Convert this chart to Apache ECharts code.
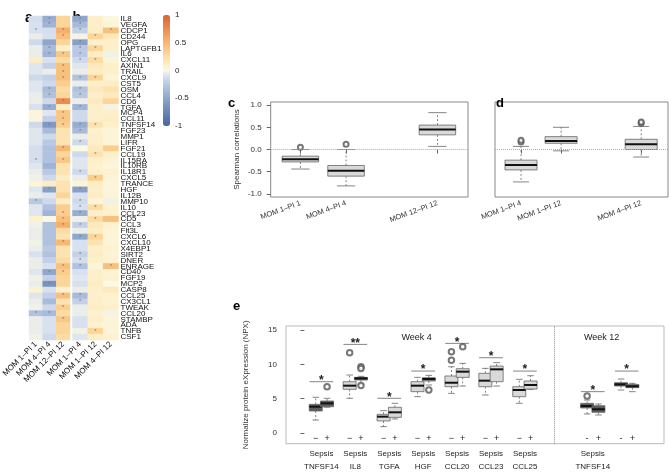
<!DOCTYPE html>
<html>
<head>
<meta charset="utf-8">
<script src="https://cdn.jsdelivr.net/npm/echarts@6/dist/echarts.min.js"></script>
<style>
html, body { margin: 0; padding: 0; background: #fff; }
#chart { width: 669px; height: 475px; }
</style>
</head>
<body>
<div id="chart"></div>
<script>
// ---- heatmap (a, b) ----
const proteins = ['IL8', 'VEGFA', 'CDCP1', 'CD244', 'OPG', 'LAPTGFB1', 'IL6', 'CXCL11', 'AXIN1', 'TRAIL',
    'CXCL9', 'CST5', 'OSM', 'CCL4', 'CD6', 'TGFA', 'MCP4', 'CCL11', 'TNFSF14', 'FGF23',
    'MMP1', 'LIFR', 'FGF21', 'CCL19', 'IL15RA', 'IL10RB', 'IL18R1', 'CXCL5', 'TRANCE', 'HGF',
    'IL12B', 'MMP10', 'IL10', 'CCL23', 'CD5', 'CCL3', 'Flt3L', 'CXCL6', 'CXCL10', 'X4EBP1',
    'SIRT2', 'DNER', 'ENRAGE', 'CD40', 'FGF19', 'MCP2', 'CASP8', 'CCL25', 'CX3CL1', 'TWEAK',
    'CCL20', 'STAMBP', 'ADA', 'TNFB', 'CSF1']
const colsA = ['MOM 1–PI 1', 'MOM 4–PI 4', 'MOM 12–PI 12']
const colsB = ['MOM 1–PI 4', 'MOM 1–PI 12', 'MOM 4–PI 12']

const mom1pi1 = [-0.12, -0.10, -0.10, -0.05, -0.15, -0.05, -0.05, 0.12, -0.08, -0.08,
    -0.15, -0.08, -0.08, -0.05, -0.05, -0.10, 0.03, 0.03, -0.15, -0.08,
    -0.08, -0.08, -0.12, -0.12, -0.12, -0.08, -0.05, -0.03, 0.05, -0.08,
    -0.05, -0.25, -0.08, -0.08, 0.08, -0.03, -0.05, -0.05, -0.03, -0.05,
    -0.10, -0.05, -0.05, -0.08, -0.03, -0.05, 0.08, -0.08, -0.05, -0.03,
    -0.30, -0.05, -0.05, -0.05, -0.03]
const mom4pi4 = [-0.45, -0.40, -0.12, -0.10, -0.50, -0.35, -0.40, -0.10, -0.20, -0.05,
    -0.20, -0.15, -0.35, -0.30, -0.15, -0.45, -0.08, -0.20, -0.60, -0.35,
    -0.15, -0.25, -0.30, -0.30, -0.30, -0.40, -0.25, -0.15, 0.12, -0.55,
    -0.08, -0.15, -0.30, -0.40, 0.00, -0.30, -0.30, -0.30, -0.30, -0.25,
    -0.30, -0.20, -0.10, -0.50, -0.20, -0.65, -0.10, -0.20, -0.35, -0.15,
    -0.35, -0.10, -0.10, -0.10, -0.15]
const mom12pi12 = [0.30, 0.30, 0.55, 0.45, 0.30, 0.10, 0.40, 0.25, 0.45, 0.45,
    0.45, 0.35, 0.25, 0.30, 0.75, 0.12, 0.40, 0.40, 0.35, 0.20,
    0.20, 0.20, 0.50, 0.30, 0.40, 0.20, 0.20, 0.12, 0.20, 0.20,
    0.30, 0.12, 0.35, 0.35, 0.45, 0.55, 0.25, 0.20, 0.50, 0.20,
    0.20, 0.25, 0.45, 0.35, 0.30, 0.30, 0.08, 0.45, 0.20, 0.35,
    0.25, 0.40, 0.30, 0.30, 0.25]
const mom1pi4 = [-0.50, -0.35, -0.20, -0.02, -0.55, -0.25, -0.25, -0.15, -0.08, -0.05,
    -0.30, -0.05, -0.30, -0.25, -0.05, -0.40, -0.15, -0.15, -0.45, -0.35,
    -0.05, -0.15, 0.00, -0.15, -0.08, -0.08, -0.15, -0.05, 0.05, -0.55,
    -0.10, -0.15, -0.10, -0.45, -0.03, -0.20, -0.05, -0.50, -0.10, -0.10,
    -0.20, -0.12, -0.30, -0.10, -0.08, -0.10, -0.05, -0.35, -0.20, -0.05,
    -0.05, -0.10, -0.10, -0.03, -0.08]
const mom1pi12 = [0.10, 0.10, 0.12, 0.30, 0.10, 0.30, 0.12, 0.25, 0.15, 0.12,
    0.30, 0.10, 0.15, 0.10, 0.15, 0.10, 0.10, 0.10, 0.20, 0.08,
    0.10, 0.10, 0.15, 0.20, 0.10, 0.08, 0.10, 0.35, 0.12, 0.10,
    0.12, 0.05, 0.25, 0.10, 0.25, 0.15, 0.12, 0.30, 0.20, 0.10,
    0.12, 0.10, 0.05, 0.10, 0.10, 0.12, 0.10, 0.10, 0.10, 0.12,
    0.08, 0.10, 0.08, 0.30, 0.12]
const mom4pi12 = [0.02, 0.05, 0.45, 0.15, 0.10, 0.10, -0.03, 0.05, 0.10, 0.10,
    0.05, 0.12, 0.20, 0.15, 0.30, -0.02, 0.10, 0.12, 0.10, 0.05,
    0.05, 0.05, 0.35, 0.10, 0.05, 0.03, 0.08, 0.05, 0.03, 0.03,
    0.05, -0.03, 0.08, 0.08, 0.45, 0.08, 0.05, 0.05, 0.05, 0.08,
    0.05, 0.08, 0.45, 0.05, 0.08, 0.00, 0.15, 0.08, 0.08, 0.10,
    -0.02, 0.05, 0.05, 0.05, 0.08]

// rows carrying a significance star, per column
const starMom1pi1 = [2, 24, 31, 50]
const starMom4pi4 = [0, 1, 5, 6, 12, 13, 15, 18, 29, 43, 45, 50]
const starMom12pi12 = [2, 3, 6, 8, 9, 10, 14, 16, 17, 18, 22, 24, 33, 34, 35, 38, 42, 43, 47, 49, 51]
const starMom1pi4 = [0, 1, 2, 4, 5, 6, 7, 10, 12, 13, 15, 18, 19, 21, 26, 29, 31, 32, 33, 35, 37, 40, 41, 42, 47, 48]
const starMom1pi12 = [3, 5, 7, 10, 18, 23, 27, 32, 34, 37, 53]
const starMom4pi12 = [2, 42]

const colorTicks = [-1, -0.5, 0, 0.5, 1]

// ---- panel c / d : Spearman correlations ----
const corrTicks = [-1, -0.5, 0, 0.5, 1]
const cLabels = ['MOM 1–PI 1', 'MOM 4–PI 4', 'MOM 12–PI 12']
const cPos = [1, 2, 4]
// [lower whisker, Q1, median, Q3, upper whisker]
const cStats = [[-0.44, -0.28, -0.22, -0.15, 0.00], [-0.82, -0.60, -0.48, -0.36, 0.00], [0.07, 0.33, 0.45, 0.55, 0.83]]
const cOutliers = [[1, 0.05], [2, 0.12]]

const dLabels = ['MOM 1–PI 4', 'MOM 1–PI 12', 'MOM 4–PI 12']
const dPos = [1, 2, 4]
const dStats = [[-0.73, -0.46, -0.35, -0.24, 0.07], [-0.03, 0.14, 0.19, 0.29, 0.50], [-0.17, 0.00, 0.12, 0.23, 0.52]]
const dOutliers = [[1, 0.17], [1, 0.21], [4, 0.59], [4, 0.62]]

// ---- panel e : NPX by sepsis status ----
const eTicks = [0, 5, 10, 15]
const ePos = [1, 2, 4, 5, 7, 8, 10, 11, 13, 14, 16, 17, 19, 20, 25, 26, 28, 29]
const eSigns = ['−', '+', '−', '+', '−', '+', '−', '+', '−', '+', '−', '+', '−', '+', '-', '+', '-', '+']
const eGenes = ['TNFSF14', 'IL8', 'TGFA', 'HGF', 'CCL20', 'CCL23', 'CCL25', 'TNFSF14', 'LAPTGFB']
const ePairStart = [1, 4, 7, 10, 13, 16, 19, 25, 28]
const eStats = [
    [1.89, 3.20, 3.83, 4.17, 5.20], [3.75, 3.83, 4.32, 4.66, 5.05],
    [5.05, 6.36, 6.89, 7.47, 8.44], [7.03, 7.71, 7.96, 8.10, 8.25],
    [0.92, 1.75, 2.38, 2.72, 3.25], [2.04, 2.28, 3.01, 3.74, 4.32],
    [5.29, 6.02, 6.89, 7.47, 8.10], [6.99, 7.57, 7.86, 8.05, 8.39],
    [5.77, 6.74, 7.32, 8.30, 9.65], [6.84, 8.10, 8.93, 9.36, 10.14],
    [5.53, 6.74, 7.62, 8.69, 9.41], [6.84, 7.47, 9.27, 9.75, 10.24],
    [4.32, 5.29, 6.26, 6.74, 7.81], [6.36, 6.40, 6.99, 7.57, 8.34],
    [2.77, 3.64, 3.93, 4.32, 4.80], [2.62, 3.01, 3.45, 3.97, 4.22],
    [6.26, 6.84, 7.08, 7.32, 7.86], [6.02, 6.60, 6.80, 7.08, 7.23]
]
const eOutliers = [[2, 6.74], [4, 11.69], [5, 9.65], [5, 9.40], [5, 6.90], [11, 6.26],
    [13, 10.60], [13, 11.84], [14, 12.57], [25, 5.39]]
const eSigY = [7.47, 12.9, 5.05, 9.02, 13.05, 10.96, 9.02, 6.02, 9.02]
const eSigMark = ['*', '**', '*', '*', '*', '*', '*', '*', '*']
const weekSplit = 22.1

// styling (not data)
const eShade = ['d', 'd', 'l', 'd', 'l', 'l', 'l', 'm', 'l', 'l', 'l', 'l', 'l', 'l', 'd', 'd', 'd', 'd']
const shadeColor = {d: '#5c5c5c', m: '#8a8a8a', l: '#d9d9d9'}
const heatColors = ['#45679f', '#5373a8', '#6280b1', '#718cba', '#8099c3', '#90a7cc', '#a0b4d5', '#b1c2de', '#c3d0e7', '#d8e1ef',
    '#fbf8e3', '#fdefc9', '#fde3b0', '#fcd598', '#fac784', '#f8b872', '#f4a762', '#ef9654', '#e88449', '#df733d', '#d56432']
const FONT = 'Liberation Sans'

function cells(col, values, stars) {
    return values.map((v, i) => [col, i, v, stars.includes(i) ? 1 : 0])
}

function drawBox(widthUnits, fills) {
    return function (params, api) {
        const x = api.value(0)
        const half = api.size([widthUnits, 0])[0] / 2
        const p = k => api.coord([x, api.value(k)])
        const lo = p(1), q1 = p(2), md = p(3), q3 = p(4), hi = p(5)
        const cx = lo[0], cap = half / 2
        const fill = fills ? fills[params.dataIndex] : '#d9d9d9'
        const edge = '#666'
        const dash = {stroke: edge, lineWidth: 0.8, lineDash: [2, 2]}
        const solid = {stroke: edge, lineWidth: 0.8}
        return {
            type: 'group',
            children: [
                {type: 'line', shape: {x1: cx, y1: q3[1], x2: cx, y2: hi[1]}, style: dash},
                {type: 'line', shape: {x1: cx, y1: q1[1], x2: cx, y2: lo[1]}, style: dash},
                {type: 'line', shape: {x1: cx - cap, y1: hi[1], x2: cx + cap, y2: hi[1]}, style: solid},
                {type: 'line', shape: {x1: cx - cap, y1: lo[1], x2: cx + cap, y2: lo[1]}, style: solid},
                {type: 'rect', shape: {x: cx - half, y: q3[1], width: 2 * half, height: q1[1] - q3[1]}, style: {fill: fill, stroke: edge, lineWidth: 0.8}},
                {type: 'line', shape: {x1: cx - half, y1: md[1], x2: cx + half, y2: md[1]}, style: {stroke: '#111', lineWidth: 2}}
            ]
        }
    }
}

function drawSig(params, api) {
    const a = api.coord([api.value(0) - 0.55, api.value(1)])
    const b = api.coord([api.value(0) + 1.55, api.value(1)])
    return {
        type: 'group',
        children: [
            {type: 'line', shape: {x1: a[0], y1: a[1], x2: b[0], y2: b[1]}, style: {stroke: '#777', lineWidth: 0.9}},
            {type: 'text', style: {text: eSigMark[params.dataIndex], x: (a[0] + b[0]) / 2, y: a[1] + 5, align: 'center', verticalAlign: 'bottom', font: 'bold 12px "' + FONT + '"', fill: '#222'}}
        ]
    }
}

const hidden = {show: false}
const chart = echarts.init(document.getElementById('chart'))

const heatLabel = {show: true, formatter: p => p.data[3] ? '*' : '', fontSize: 6, color: '#777', fontFamily: FONT}

const option = {
    animation: false,
    textStyle: {fontFamily: FONT},
    grid: [
        {left: 24, top: 16, width: 46, height: 324},
        {left: 72.5, top: 16, width: 46, height: 324},
        {left: 163, top: 15, width: 7, height: 111},
        {left: 270.7, top: 102, width: 197.3, height: 95, show: true, borderColor: '#888', borderWidth: 1, backgroundColor: 'transparent'},
        {left: 495, top: 102, width: 173, height: 95, show: true, borderColor: '#888', borderWidth: 1, backgroundColor: 'transparent'},
        {left: 286, top: 326, width: 378, height: 117.7, show: true, borderColor: '#bbb', borderWidth: 1, backgroundColor: 'transparent'}
    ],
    visualMap: {
        type: 'continuous', min: -1, max: 1, dimension: 2, seriesIndex: [0, 1, 2, 3, 4, 5],
        left: 163, top: 15, itemWidth: 7, itemHeight: 111, padding: 0, calculable: false, text: null,
        inRange: {color: heatColors}
    },
    xAxis: [
        {gridIndex: 0, type: 'category', data: colsA, axisLine: hidden, axisTick: hidden,
            axisLabel: {rotate: 45, interval: 0, fontSize: 8, color: '#111', margin: 3}},
        {gridIndex: 1, type: 'category', data: colsB, axisLine: hidden, axisTick: hidden,
            axisLabel: {rotate: 45, interval: 0, fontSize: 8, color: '#111', margin: 3}},
        {gridIndex: 2, type: 'value', show: false},
        {gridIndex: 3, type: 'value', min: 0.35, max: 4.67, splitLine: hidden, axisLine: hidden,
            axisTick: {customValues: cPos, length: 4, lineStyle: {color: '#666'}},
            axisLabel: {customValues: cPos, formatter: v => cLabels[cPos.indexOf(v)], rotate: 20, fontSize: 7.5, color: '#333', margin: 6}},
        {gridIndex: 4, type: 'value', min: 0.35, max: 4.67, splitLine: hidden, axisLine: hidden,
            axisTick: {customValues: dPos, length: 4, lineStyle: {color: '#666'}},
            axisLabel: {customValues: dPos, formatter: v => dLabels[dPos.indexOf(v)], rotate: 20, fontSize: 7.5, color: '#333', margin: 6}},
        {gridIndex: 5, type: 'value', position: 'bottom', min: -1.63, max: 31.8, splitLine: hidden, axisLine: hidden, axisTick: hidden,
            axisLabel: {inside: true, customValues: ePos, formatter: v => eSigns[ePos.indexOf(v)], fontSize: 9, color: '#222', margin: 1}},
        {gridIndex: 5, type: 'value', position: 'bottom', min: -1.63, max: 31.8, splitLine: hidden, axisLine: hidden, axisTick: hidden,
            axisLabel: {customValues: ePairStart.map(p => p + 0.5), formatter: v => 'Sepsis\n' + eGenes[ePairStart.indexOf(v - 0.5)],
                fontSize: 8, lineHeight: 13, color: '#222', margin: 4}}
    ],
    yAxis: [
        {gridIndex: 0, type: 'category', data: proteins, inverse: true, show: false},
        {gridIndex: 1, type: 'category', data: proteins, inverse: true, position: 'right', axisLine: hidden, axisTick: hidden,
            axisLabel: {interval: 0, fontSize: 8, color: '#111', margin: 2}},
        {gridIndex: 2, type: 'value', min: -1, max: 1, position: 'right', splitLine: hidden, axisLine: hidden, axisTick: hidden,
            axisLabel: {customValues: colorTicks, fontSize: 8, color: '#222', margin: 5}},
        {gridIndex: 3, type: 'value', min: -1.07, max: 1.07, splitLine: hidden, axisLine: hidden,
            axisTick: {show: true, customValues: corrTicks, length: 4, lineStyle: {color: '#666'}},
            axisLabel: {customValues: corrTicks, formatter: v => v.toFixed(1), fontSize: 8, color: '#333', margin: 9},
            name: 'Spearman correlations', nameLocation: 'middle', nameGap: 30, nameTextStyle: {fontSize: 8, color: '#333'}},
        {gridIndex: 4, type: 'value', min: -1.07, max: 1.07, splitLine: hidden, axisLine: hidden, axisTick: hidden, axisLabel: hidden},
        {gridIndex: 5, type: 'value', min: -1.56, max: 15.58, splitLine: hidden, axisLine: hidden,
            axisTick: {show: true, customValues: eTicks, length: 4, lineStyle: {color: '#666'}},
            axisLabel: {customValues: eTicks, fontSize: 8, color: '#333', margin: 9},
            name: 'Normalize protein eXpression (NPX)', nameLocation: 'middle', nameGap: 36, nameTextStyle: {fontSize: 8, color: '#333'}}
    ],
    series: [
        {type: 'heatmap', xAxisIndex: 0, yAxisIndex: 0, data: cells(0, mom1pi1, starMom1pi1), label: heatLabel},
        {type: 'heatmap', xAxisIndex: 0, yAxisIndex: 0, data: cells(1, mom4pi4, starMom4pi4), label: heatLabel},
        {type: 'heatmap', xAxisIndex: 0, yAxisIndex: 0, data: cells(2, mom12pi12, starMom12pi12), label: heatLabel},
        {type: 'heatmap', xAxisIndex: 1, yAxisIndex: 1, data: cells(0, mom1pi4, starMom1pi4), label: heatLabel},
        {type: 'heatmap', xAxisIndex: 1, yAxisIndex: 1, data: cells(1, mom1pi12, starMom1pi12), label: heatLabel},
        {type: 'heatmap', xAxisIndex: 1, yAxisIndex: 1, data: cells(2, mom4pi12, starMom4pi12), label: heatLabel},
        {type: 'custom', xAxisIndex: 3, yAxisIndex: 3, renderItem: drawBox(0.8), data: cStats.map((s, i) => [cPos[i], ...s]),
            encode: {x: 0, y: [1, 2, 3, 4, 5]},
            markLine: {silent: true, symbol: 'none', label: hidden, lineStyle: {type: 'dotted', color: '#aaa', width: 1}, data: [{yAxis: 0}]}},
        {type: 'custom', xAxisIndex: 4, yAxisIndex: 4, renderItem: drawBox(0.8), data: dStats.map((s, i) => [dPos[i], ...s]),
            encode: {x: 0, y: [1, 2, 3, 4, 5]},
            markLine: {silent: true, symbol: 'none', label: hidden, lineStyle: {type: 'dotted', color: '#aaa', width: 1}, data: [{yAxis: 0}]}},
        {type: 'custom', xAxisIndex: 5, yAxisIndex: 5, renderItem: drawBox(1.15, eShade.map(s => shadeColor[s])), data: eStats.map((s, i) => [ePos[i], ...s]),
            encode: {x: 0, y: [1, 2, 3, 4, 5]},
            markLine: {silent: true, symbol: 'none', label: hidden, lineStyle: {type: 'dotted', color: '#888', width: 1}, data: [{xAxis: weekSplit}]}},
        {type: 'custom', xAxisIndex: 5, yAxisIndex: 5, renderItem: drawSig, data: ePairStart.map((p, i) => [p, eSigY[i]])},
        {type: 'scatter', xAxisIndex: 3, yAxisIndex: 3, data: cOutliers, symbol: 'emptyCircle', symbolSize: 5, itemStyle: {color: '#555', borderWidth: 0.8}},
        {type: 'scatter', xAxisIndex: 4, yAxisIndex: 4, data: dOutliers, symbol: 'emptyCircle', symbolSize: 5, itemStyle: {color: '#555', borderWidth: 0.8}},
        {type: 'scatter', xAxisIndex: 5, yAxisIndex: 5, data: eOutliers, symbol: 'emptyCircle', symbolSize: 5.5, itemStyle: {color: '#555', borderWidth: 0.8}}
    ],
    graphic: [
        {type: 'text', x: 25, y: 11, style: {text: 'a', font: 'bold 14px "' + FONT + '"', fill: '#000', verticalAlign: 'alphabetic'}},
        {type: 'text', x: 72.5, y: 11, style: {text: 'b', font: 'bold 14px "' + FONT + '"', fill: '#000', verticalAlign: 'alphabetic'}},
        {type: 'text', x: 228, y: 97, style: {text: 'c', font: 'bold 13px "' + FONT + '"', fill: '#000', verticalAlign: 'alphabetic'}},
        {type: 'text', x: 496, y: 97, style: {text: 'd', font: 'bold 13px "' + FONT + '"', fill: '#000', verticalAlign: 'alphabetic'}},
        {type: 'text', x: 233, y: 300, style: {text: 'e', font: 'bold 13px "' + FONT + '"', fill: '#000', verticalAlign: 'alphabetic'}},
        {type: 'text', x: 416.7, y: 338, style: {text: 'Week 4', font: '9px "' + FONT + '"', fill: '#222', align: 'center', verticalAlign: 'middle'}},
        {type: 'text', x: 601.7, y: 338, style: {text: 'Week 12', font: '9px "' + FONT + '"', fill: '#222', align: 'center', verticalAlign: 'middle'}}
    ]
}
chart.setOption(option)
</script>
</body>
</html>
